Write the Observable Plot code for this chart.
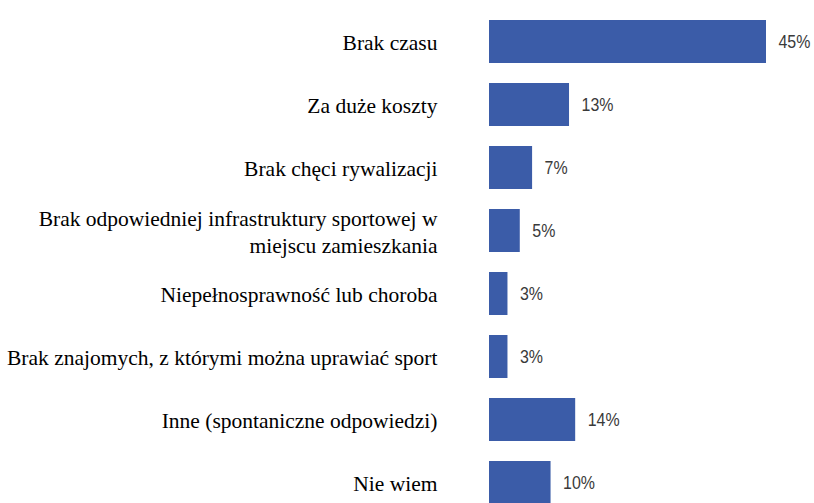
<!DOCTYPE html>
<html>
<head>
<meta charset="utf-8">
<script src="https://cdn.jsdelivr.net/npm/d3@7"></script>
<script src="https://cdn.jsdelivr.net/npm/@observablehq/plot@0.6"></script>
<style>
  html, body { margin: 0; padding: 0; background: #fff; overflow: hidden; }
  #chart svg { overflow: hidden; }
</style>
</head>
<body>
<div id="chart"></div>
<script>
const categories = [
  "Brak czasu",
  "Za duże koszty",
  "Brak chęci rywalizacji",
  "Brak odpowiedniej infrastruktury sportowej w\nmiejscu zamieszkania",
  "Niepełnosprawność lub choroba",
  "Brak znajomych, z którymi można uprawiać sport",
  "Inne (spontaniczne odpowiedzi)",
  "Nie wiem"
];
const values = [45, 13, 7, 5, 3, 3, 14, 10];

const data = categories.map((c, i) => ({category: c, value: values[i]}));

const chart = Plot.plot({
  width: 814,
  height: 503,
  marginLeft: 489,
  marginRight: 48,
  marginTop: 0,
  marginBottom: 0,
  x: {domain: [0, 45], axis: null},
  y: {domain: categories, range: [0, 525], paddingInner: 0.31, paddingOuter: 0.266, axis: null},
  marks: [
    Plot.barX(data, {y: "category", x: "value", fill: "#3b5ca8"}),
    Plot.text(data, {
      y: "category", x: () => 0, text: "category",
      textAnchor: "end", dx: -52, lineHeight: 1.22,
      fontFamily: "Liberation Serif, Times New Roman, serif", fontSize: 21.5, fill: "#000"
    }),
    Plot.text(data, {
      y: "category", x: "value", text: d => d.value + "%",
      textAnchor: "start", dx: 12, className: "vals",
      fontFamily: "Liberation Sans, Arial, sans-serif", fontSize: 19, fill: "#3a3a3a"
    })
  ]
});
d3.select(chart).selectAll(".vals text").each(function() {
  const t = this.getAttribute("transform") || "";
  this.setAttribute("transform", t + " scale(0.84,1)");
});
document.getElementById("chart").appendChild(chart);
</script>
</body>
</html>
